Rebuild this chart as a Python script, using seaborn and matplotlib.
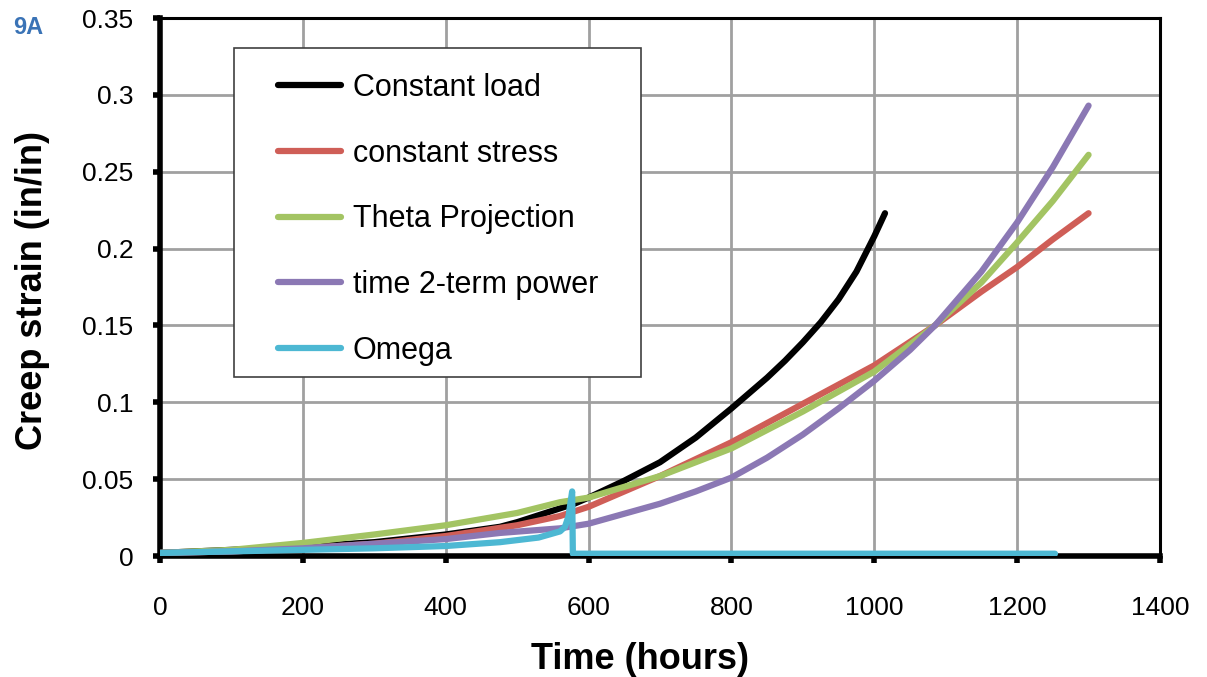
import matplotlib
matplotlib.use("Agg")
import matplotlib.pyplot as plt
from matplotlib.patches import Rectangle
import seaborn as sns
import pandas as pd

# ---------------- data ----------------
load_hours = [0, 100, 200, 300, 400, 476, 500, 580, 600, 650, 700, 750, 800, 825, 850, 875, 900, 925, 950, 975, 1000, 1015]
load_strain = [0.002, 0.004, 0.006, 0.009, 0.014, 0.019, 0.022, 0.034, 0.038, 0.049, 0.061, 0.077, 0.096, 0.106, 0.116, 0.127, 0.139, 0.152, 0.167, 0.185, 0.208, 0.223]

stress_hours = [0, 100, 200, 300, 400, 500, 560, 600, 650, 700, 800, 900, 1000, 1085, 1150, 1200, 1250, 1300]
stress_strain = [0.002, 0.003, 0.005, 0.008, 0.013, 0.020, 0.026, 0.032, 0.042, 0.052, 0.074, 0.099, 0.124, 0.150, 0.172, 0.188, 0.206, 0.223]

theta_hours = [0, 100, 200, 300, 400, 500, 560, 600, 700, 800, 900, 1000, 1085, 1150, 1200, 1250, 1300]
theta_strain = [0.002, 0.004, 0.0085, 0.014, 0.020, 0.028, 0.035, 0.038, 0.052, 0.070, 0.094, 0.120, 0.150, 0.178, 0.204, 0.231, 0.261]

power_hours = [0, 100, 200, 300, 400, 476, 560, 600, 700, 750, 800, 850, 900, 950, 1000, 1050, 1085, 1150, 1200, 1250, 1300]
power_strain = [0.002, 0.003, 0.005, 0.008, 0.011, 0.015, 0.018, 0.021, 0.034, 0.042, 0.051, 0.064, 0.079, 0.096, 0.114, 0.134, 0.150, 0.185, 0.217, 0.253, 0.293]

omega_hours = [0, 100, 200, 300, 400, 476, 530, 560, 567, 572, 577, 578, 700, 900, 1100, 1253]
omega_strain = [0.002, 0.003, 0.004, 0.005, 0.0065, 0.009, 0.012, 0.016, 0.019, 0.026, 0.042, 0.0015, 0.0015, 0.0015, 0.0015, 0.0015]

series_names = ["Constant load", "constant stress", "Theta Projection", "time 2-term power", "Omega"]
series_colors = ["#000000", "#CF5E57", "#A3C463", "#8B78B4", "#4DB8D3"]

x_ticks = [0, 200, 400, 600, 800, 1000, 1200, 1400]
y_ticks = [0, 0.05, 0.1, 0.15, 0.2, 0.25, 0.3, 0.35]
y_tick_labels = ["0", "0.05", "0.1", "0.15", "0.2", "0.25", "0.3", "0.35"]

# ---------------- plot ----------------
sns.set_style("white")
plt.rcParams["font.family"] = ["Liberation Sans", "DejaVu Sans"]
plt.rcParams["text.color"] = "black"
plt.rcParams["axes.labelcolor"] = "black"
plt.rcParams["xtick.color"] = "black"
plt.rcParams["ytick.color"] = "black"

fig = plt.figure(figsize=(12.07, 6.77), dpi=100)
ax = fig.add_axes([160 / 1207, 1 - 556 / 677, 1000 / 1207, 538 / 677])

all_series = [
    (load_hours, load_strain),
    (stress_hours, stress_strain),
    (theta_hours, theta_strain),
    (power_hours, power_strain),
    (omega_hours, omega_strain),
]

for (hx, sy), name, col in zip(all_series, series_names, series_colors):
    df = pd.DataFrame({"hours": hx, "strain": sy})
    sns.lineplot(data=df, x="hours", y="strain", ax=ax, color=col, linewidth=4.5,
                 estimator=None, sort=False, label=name, solid_capstyle="round",
                 solid_joinstyle="round", zorder=3)

ax.set_xlim(0, 1400)
ax.set_ylim(0, 0.35)
ax.set_xticks(x_ticks)
ax.set_xticklabels([str(v) for v in x_ticks])
ax.set_yticks(y_ticks)
ax.set_yticklabels(y_tick_labels)

ax.grid(True, color="#A0A0A0", linewidth=2.0, zorder=0)
ax.set_axisbelow(True)

for side in ["left", "bottom"]:
    ax.spines[side].set_color("black")
    ax.spines[side].set_linewidth(4.0)
for side in ["top", "right"]:
    ax.spines[side].set_color("black")
    ax.spines[side].set_linewidth(2.2)
    ax.spines[side].set_visible(True)

ax.tick_params(axis="x", direction="out", length=5, width=4, color="black",
               labelcolor="black", labelsize=19, pad=24, bottom=True)
ax.tick_params(axis="y", direction="out", length=5, width=4, color="black",
               labelcolor="black", labelsize=19, pad=14, left=True)

ax.set_xlabel("Time (hours)", fontsize=26, fontweight="bold", color="black")
ax.set_ylabel("Creep strain (in/in)", fontsize=26, fontweight="bold", color="black")
ax.xaxis.set_label_coords(0.48, -0.159)
ax.yaxis.set_label_coords(-0.110, 0.494)

# legend box (frame drawn as its own rectangle, entries placed inside)
ax.add_patch(Rectangle((0.074, 0.3327), 0.407, 0.6115, transform=ax.transAxes,
                       facecolor="white", edgecolor="#404040", linewidth=1.2,
                       zorder=4))
leg = ax.legend(loc="upper left", bbox_to_anchor=(0.118, 0.898), fontsize=22,
                frameon=False, borderpad=0, labelspacing=1.17,
                handlelength=2.06, handletextpad=0.39, borderaxespad=0)
leg.set_zorder(5)
for line in leg.get_lines():
    line.set_linewidth(4.5)
    line.set_solid_capstyle("round")
for t in leg.get_texts():
    t.set_color("black")

fig.text(13 / 1207, 1 - 27 / 677, "9A", color="#3A73B6", fontsize=17,
         fontweight="bold", ha="left", va="center")

fig.savefig("out.png", dpi=100)
